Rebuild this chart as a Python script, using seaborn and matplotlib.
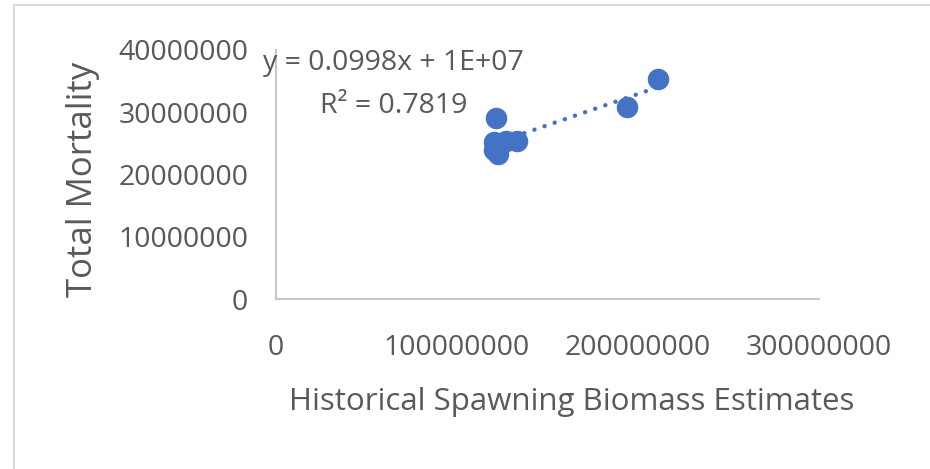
import matplotlib
matplotlib.use("Agg")
import matplotlib.pyplot as plt
from matplotlib.lines import Line2D
import pandas as pd
import seaborn as sns

# Spawning biomass vs. total mortality, one point per year
biomass = [121.5e6, 120.4e6, 120.4e6, 122.7e6, 127.1e6, 133.2e6, 193.7e6, 211.1e6]
mortality = [29.0e6, 25.2e6, 23.9e6, 23.3e6, 25.4e6, 25.4e6, 30.8e6, 35.4e6]

x_ticks = [0, 100000000, 200000000, 300000000]
y_ticks = [0, 10000000, 20000000, 30000000, 40000000]
x_label = "Historical Spawning Biomass Estimates"
y_label = "Total Mortality"
equation = "y = 0.0998x + 1E+07"
r_squared = "R² = 0.7819"

sns.set_theme(style="white")
plt.rcParams["font.family"] = ["Open Sans", "DejaVu Sans"]

W, H = 930, 469
BLUE = "#4472C4"
TEXT = "#595959"
AXIS = "#C8C8C8"

fig = plt.figure(figsize=(W / 100, H / 100), dpi=100, facecolor="white")
ax = fig.add_axes([276 / W, 1 - 299 / H, (819 - 276) / W, (299 - 50) / H])

df = pd.DataFrame({"biomass": biomass, "mortality": mortality})
sns.regplot(
    data=df, x="biomass", y="mortality", ax=ax, ci=None, color=BLUE,
    scatter_kws=dict(s=240, linewidths=0, alpha=1, zorder=2),
    line_kws=dict(lw=3.2, linestyle=(0, (0.01, 2.4)),
                  dash_capstyle="round", zorder=3),
)

ax.set_xlim(0, 300e6)
ax.set_ylim(0, 40e6)
ax.set_xticks(x_ticks)
ax.set_xticklabels([str(v) for v in x_ticks])
ax.set_yticks(y_ticks)
ax.set_yticklabels([str(v) for v in y_ticks])
ax.tick_params(axis="both", length=0, labelsize=20.5, labelcolor=TEXT)
ax.tick_params(axis="y", pad=20)
ax.tick_params(axis="x", pad=25)

for side in ("top", "right"):
    ax.spines[side].set_visible(False)
for side in ("left", "bottom"):
    ax.spines[side].set_color(AXIS)
    ax.spines[side].set_linewidth(1.5)

ax.set_xlabel(x_label, fontsize=22.5, color=TEXT, va="center")
ax.xaxis.set_label_coords(0.545, -0.414)
ax.set_ylabel(y_label, fontsize=25, color=TEXT, va="center")
ax.yaxis.set_label_coords(-0.355, 0.48)

# trendline equation and fit statistic
fig.text(393.5 / W, 1 - 70 / H, equation, ha="center", va="baseline",
         fontsize=20.5, color=TEXT)
fig.text(394 / W, 1 - 113 / H, r_squared, ha="center", va="baseline",
         fontsize=20.5, color=TEXT)

# chart frame edges
frame = "#D9D9D9"
fig.add_artist(Line2D([13.5 / W, 1], [1 - 5 / H, 1 - 5 / H], color=frame,
                      lw=1.5, transform=fig.transFigure))
fig.add_artist(Line2D([13.5 / W, 13.5 / W], [0, 1 - 5 / H], color=frame,
                      lw=1.5, transform=fig.transFigure))

fig.savefig("out.png", dpi=100, facecolor="white")
